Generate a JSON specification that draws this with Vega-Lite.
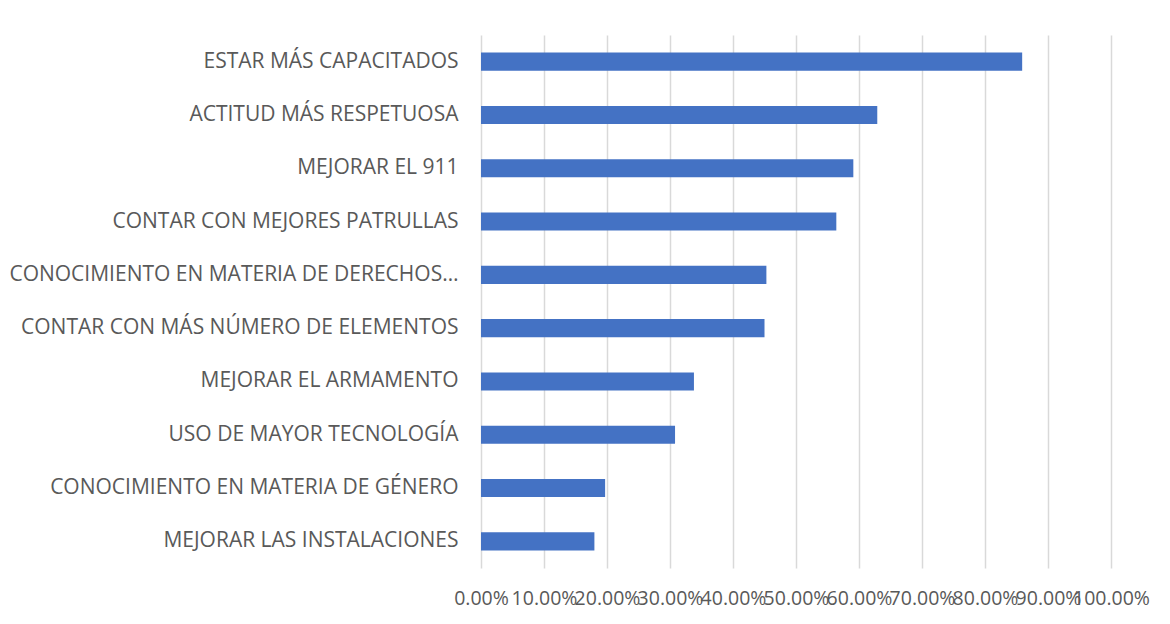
{
  "$schema": "https://vega.github.io/schema/vega-lite/v6.json",
  "autosize": {"type": "none"},
  "width": 630,
  "height": 533,
  "padding": {"left": 481, "top": 35, "right": 59, "bottom": 56},
  "background": "white",
  "data": {
    "values": [
      {"cat": "ESTAR MÁS CAPACITADOS", "v": 0.859},
      {"cat": "ACTITUD MÁS RESPETUOSA", "v": 0.629},
      {"cat": "MEJORAR EL 911", "v": 0.591},
      {"cat": "CONTAR CON MEJORES PATRULLAS", "v": 0.564},
      {"cat": "CONOCIMIENTO EN MATERIA DE DERECHOS…", "v": 0.453},
      {"cat": "CONTAR CON MÁS NÚMERO DE ELEMENTOS", "v": 0.450},
      {"cat": "MEJORAR EL ARMAMENTO", "v": 0.338},
      {"cat": "USO DE MAYOR TECNOLOGÍA", "v": 0.308},
      {"cat": "CONOCIMIENTO EN MATERIA DE GÉNERO", "v": 0.197},
      {"cat": "MEJORAR LAS INSTALACIONES", "v": 0.180}
    ]
  },
  "mark": {"type": "bar", "color": "#4472C4"},
  "encoding": {
    "y": {
      "field": "cat",
      "type": "nominal",
      "sort": null,
      "scale": {"paddingInner": 0.66, "paddingOuter": 0.33},
      "axis": {
        "title": null,
        "ticks": false,
        "domain": false,
        "labelPadding": 23,
        "labelFont": "Open Sans",
        "labelFontSize": 21,
        "labelColor": "#595959",
        "labelLimit": 500
      }
    },
    "x": {
      "field": "v",
      "type": "quantitative",
      "scale": {"domain": [0, 1], "nice": false},
      "axis": {
        "title": null,
        "format": ".2%",
        "values": [0, 0.1, 0.2, 0.3, 0.4, 0.5, 0.6, 0.7, 0.8, 0.9, 1],
        "ticks": false,
        "domain": false,
        "grid": true,
        "gridColor": "#d9d9d9",
        "gridWidth": 1.5,
        "labelOverlap": false,
        "labelPadding": 21,
        "labelFont": "Open Sans",
        "labelFontSize": 19.5,
        "labelColor": "#595959",
        "labelFlush": false
      }
    }
  },
  "config": {"view": {"stroke": null}}
}
